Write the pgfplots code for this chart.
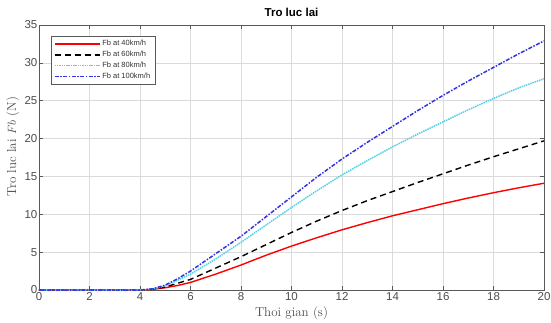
\documentclass[border=0pt]{standalone}
\usepackage{fontspec}
\usepackage{pgfplots}
\pgfplotsset{compat=1.18}
\usepackage{pgfplotstable}
\newfontfamily\arial{Liberation Sans}
\definecolor{gridc}{gray}{0.86}
\definecolor{axc}{gray}{0.35}
\definecolor{cyanc}{rgb}{0.35,0.82,0.9}
\definecolor{bluec}{rgb}{0.2,0.2,0.9}
\pgfplotstableread{
x    r     k     c     b
0    0     0     0     0
4    0     0     0     0
4.5  0.08  0.1   0.12  0.15
5    0.3   0.4   0.55  0.65
5.5  0.6   0.9   1.3   1.5
6    1.0   1.4   2.1   2.5
7    2.1   2.9   4.1   4.8
8    3.3   4.4   6.3   7.1
9    4.6   6.0   8.6   9.7
10   5.8   7.6   10.9  12.3
11   6.9   9.1   13.1  14.9
12   7.95  10.5  15.2  17.3
13   8.9   11.8  17.1  19.5
14   9.8   13.0  18.9  21.6
15   10.6  14.2  20.6  23.7
16   11.4  15.35 22.2  25.7
17   12.15 16.5  23.8  27.6
18   12.85 17.6  25.3  29.4
19   13.5  18.65 26.7  31.2
20   14.1  19.7  27.9  32.9
}\data
\begin{document}
\begin{tikzpicture}
\begin{axis}[
  name=ax,
  scale only axis,
  width=505pt, height=265pt,
  xmin=0, xmax=20, ymin=0, ymax=35,
  xtick={0,2,...,20}, ytick={0,5,...,35},
  grid=major,
  major grid style={gridc, line width=0.5pt},
  axis line style={axc, line width=0.8pt},
  tick style={axc, line width=0.5pt},
  tick align=inside,
  major tick length=4pt,
  xtick pos=both, ytick pos=both,
  /pgf/number format/assume math mode=true,
  ticklabel style={font=\arial\fontsize{11.5}{13}\selectfont, text=black!70},
  yticklabel style={inner sep=1.5pt},
  xticklabel style={inner sep=1pt, yshift=-1pt},
  title={\arial\bfseries\fontsize{11.5}{13}\selectfont Tro luc lai},
  title style={at={(axis description cs:0.5,1)}, anchor=south, yshift=1pt, inner sep=1pt},
  xlabel={\fontsize{13}{15}\selectfont Thoi gian (s)},
  xlabel style={at={(axis description cs:0.5,0)}, anchor=center, yshift=-23pt, text=black!70},
  ylabel={\fontsize{13}{15}\selectfont Tro luc lai $Fb$ (N)},
  ylabel style={at={(axis description cs:-0.0515,0.54)}, anchor=center, text=black!70},
  legend cell align=left,
  legend style={at={(axis description cs:0.0232,0.9596)}, anchor=north west,
    draw=axc, fill=white,
    font=\arial\fontsize{7.5}{9}\selectfont, text=black!80,
    inner xsep=3pt, inner ysep=2.5pt, row sep=0pt},
  legend image code/.code={\draw[#1, draw=., line width=1.4pt] (0pt,0pt) -- (45pt,0pt);},
]
\addplot[red, line width=1.4pt] table[x=x,y=r]{\data};
\addlegendentry{Fb at 40km/h}
\addplot[black, line width=1.4pt, dash pattern=on 6pt off 4pt] table[x=x,y=k]{\data};
\addlegendentry{Fb at 60km/h}
\addplot[cyanc, line width=1.5pt, dash pattern=on 1.5pt off 0.8pt] table[x=x,y=c]{\data};
\addlegendentry{Fb at 80km/h}
\addplot[bluec, line width=1.5pt, dash pattern=on 4pt off 1.5pt on 1.5pt off 1.5pt] table[x=x,y=b]{\data};
\addlegendentry{Fb at 100km/h}
\end{axis}
\pgfresetboundingbox
\path[use as bounding box] ([xshift=-39pt,yshift=-32pt]ax.south west) rectangle ([xshift=7pt,yshift=25pt]ax.north east);
\end{tikzpicture}
\end{document}
